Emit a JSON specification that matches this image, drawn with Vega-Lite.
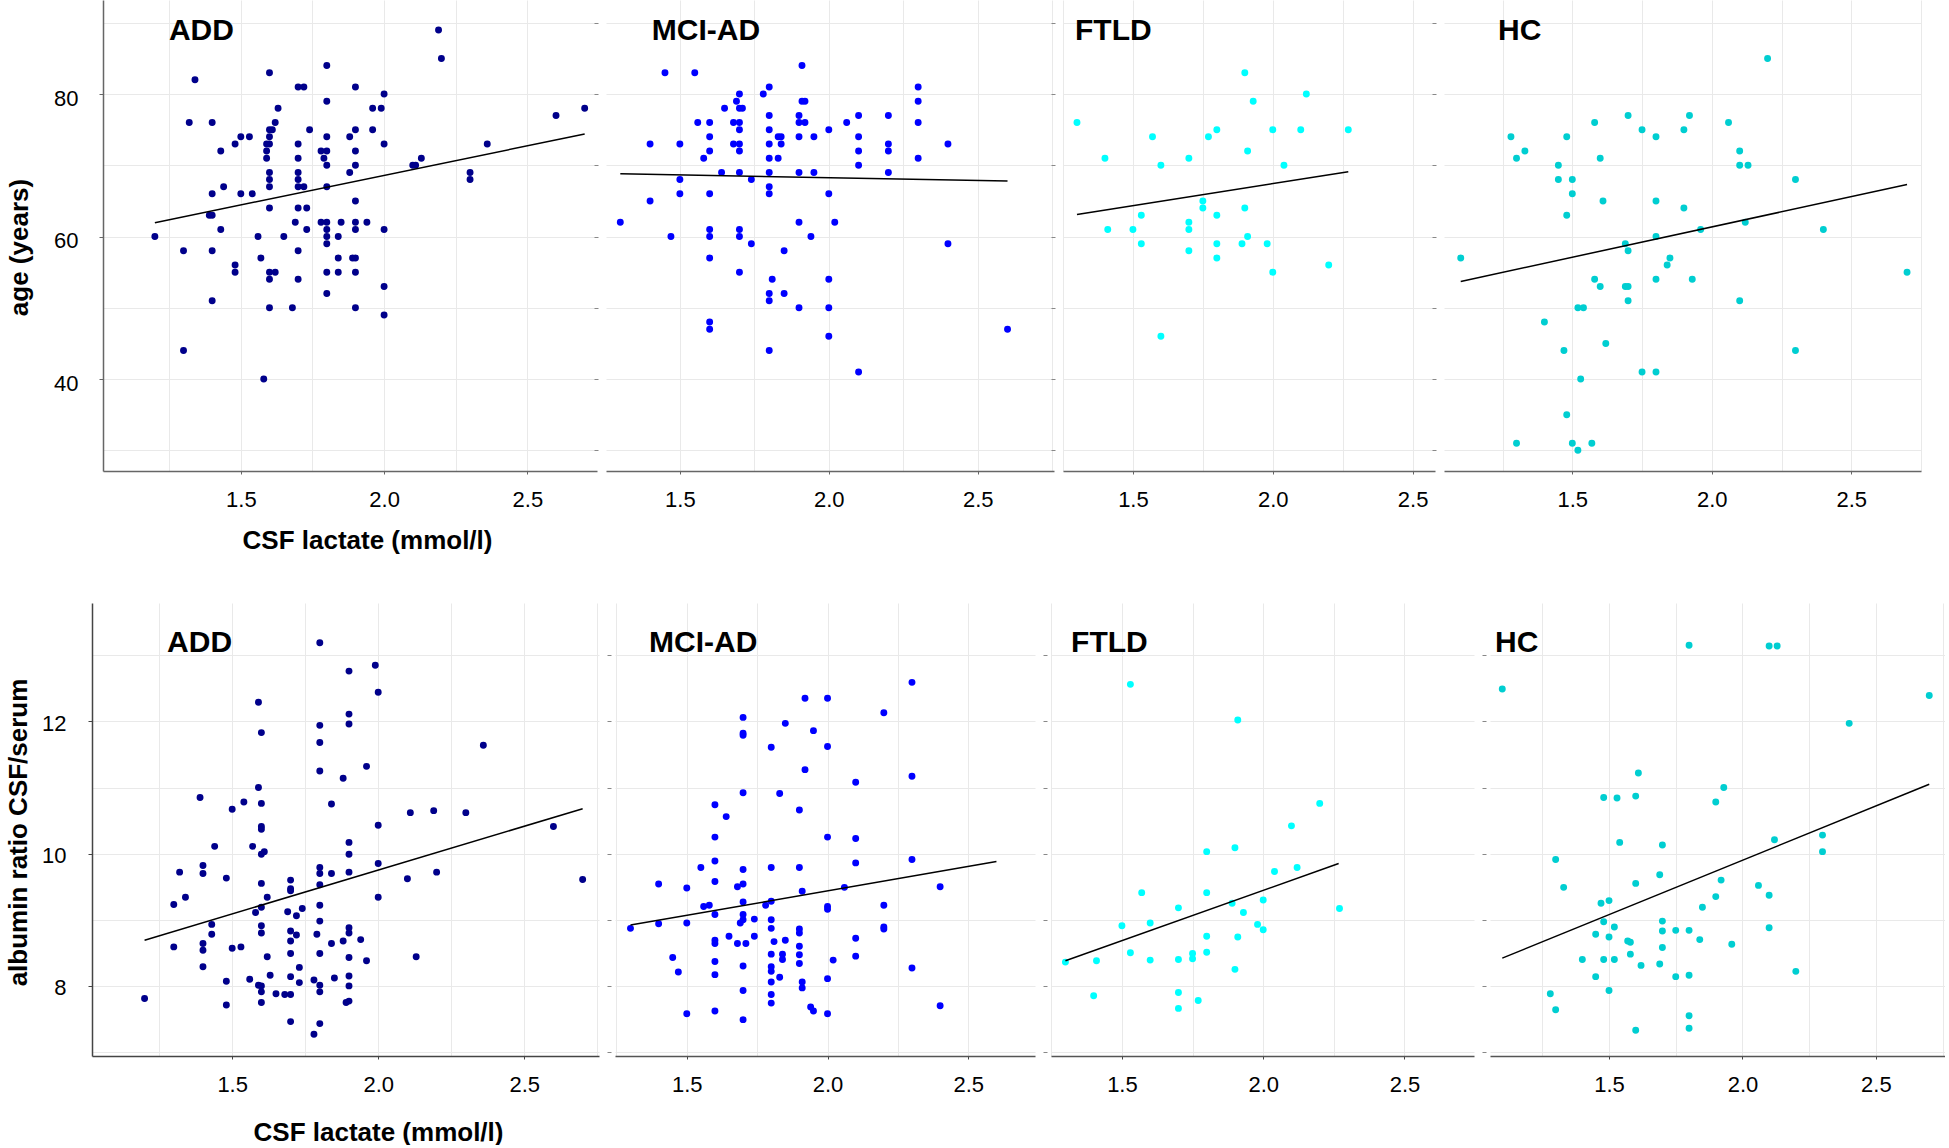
{
"$schema":"https://vega.github.io/schema/vega-lite/v6.json",
"background":"white",
"padding":{"left":5,"top":0,"right":0,"bottom":0},
"config":{"view":{"stroke":null},"font":"Liberation Sans","axis":{"labelFont":"Liberation Sans","titleFont":"Liberation Sans","labelColor":"#000","titleColor":"#000","labelFontSize":22,"titleFontSize":26,"titleFontWeight":"bold","gridColor":"#e9e9e9","gridWidth":1,"labelFlush":false,"labelOverlap":false},"text":{"font":"Liberation Sans","fontSize":30,"fontWeight":"bold","color":"#000","align":"left","baseline":"alphabetic"},"circle":{"size":48,"opacity":1}},
"datasets":{
"top":[
{"g":"ADD","lactate":2.19,"value":89},{"g":"ADD","lactate":2.2,"value":85},{"g":"ADD","lactate":1.8,"value":84},{"g":"ADD","lactate":1.6,"value":83},{"g":"ADD","lactate":1.34,"value":82},{"g":"ADD","lactate":1.7,"value":81},{"g":"ADD","lactate":1.72,"value":81},{"g":"ADD","lactate":1.9,"value":81},{"g":"ADD","lactate":2.0,"value":80},{"g":"ADD","lactate":1.8,"value":79},{"g":"ADD","lactate":1.63,"value":78},{"g":"ADD","lactate":1.96,"value":78},{"g":"ADD","lactate":1.99,"value":78},{"g":"ADD","lactate":2.7,"value":78},{"g":"ADD","lactate":2.6,"value":77},{"g":"ADD","lactate":1.32,"value":76},{"g":"ADD","lactate":1.4,"value":76},{"g":"ADD","lactate":1.62,"value":76},{"g":"ADD","lactate":1.6,"value":75},{"g":"ADD","lactate":1.61,"value":75},{"g":"ADD","lactate":1.74,"value":75},{"g":"ADD","lactate":1.9,"value":75},{"g":"ADD","lactate":1.96,"value":75},{"g":"ADD","lactate":1.5,"value":74},{"g":"ADD","lactate":1.53,"value":74},{"g":"ADD","lactate":1.6,"value":74},{"g":"ADD","lactate":1.8,"value":74},{"g":"ADD","lactate":1.88,"value":74},{"g":"ADD","lactate":1.48,"value":73},{"g":"ADD","lactate":1.59,"value":73},{"g":"ADD","lactate":1.6,"value":73},{"g":"ADD","lactate":1.7,"value":73},{"g":"ADD","lactate":2.0,"value":73},{"g":"ADD","lactate":2.36,"value":73},{"g":"ADD","lactate":1.43,"value":72},{"g":"ADD","lactate":1.59,"value":72},{"g":"ADD","lactate":1.78,"value":72},{"g":"ADD","lactate":1.8,"value":72},{"g":"ADD","lactate":1.9,"value":72},{"g":"ADD","lactate":1.7,"value":71},{"g":"ADD","lactate":1.59,"value":71},{"g":"ADD","lactate":1.79,"value":71},{"g":"ADD","lactate":2.13,"value":71},{"g":"ADD","lactate":1.8,"value":70},{"g":"ADD","lactate":1.9,"value":70},{"g":"ADD","lactate":2.1,"value":70},{"g":"ADD","lactate":2.11,"value":70},{"g":"ADD","lactate":1.6,"value":69},{"g":"ADD","lactate":1.7,"value":69},{"g":"ADD","lactate":1.88,"value":69},{"g":"ADD","lactate":2.3,"value":69},{"g":"ADD","lactate":1.6,"value":68},{"g":"ADD","lactate":1.7,"value":68},{"g":"ADD","lactate":2.3,"value":68},{"g":"ADD","lactate":1.44,"value":67},{"g":"ADD","lactate":1.6,"value":67},{"g":"ADD","lactate":1.7,"value":67},{"g":"ADD","lactate":1.72,"value":67},{"g":"ADD","lactate":1.8,"value":67},{"g":"ADD","lactate":1.4,"value":66},{"g":"ADD","lactate":1.5,"value":66},{"g":"ADD","lactate":1.54,"value":66},{"g":"ADD","lactate":1.9,"value":65},{"g":"ADD","lactate":1.6,"value":64},{"g":"ADD","lactate":1.7,"value":64},{"g":"ADD","lactate":1.73,"value":64},{"g":"ADD","lactate":1.39,"value":63},{"g":"ADD","lactate":1.4,"value":63},{"g":"ADD","lactate":1.69,"value":62},{"g":"ADD","lactate":1.78,"value":62},{"g":"ADD","lactate":1.8,"value":62},{"g":"ADD","lactate":1.85,"value":62},{"g":"ADD","lactate":1.9,"value":62},{"g":"ADD","lactate":1.94,"value":62},{"g":"ADD","lactate":1.43,"value":61},{"g":"ADD","lactate":1.73,"value":61},{"g":"ADD","lactate":1.8,"value":61},{"g":"ADD","lactate":1.9,"value":61},{"g":"ADD","lactate":2.0,"value":61},{"g":"ADD","lactate":1.2,"value":60},{"g":"ADD","lactate":1.56,"value":60},{"g":"ADD","lactate":1.65,"value":60},{"g":"ADD","lactate":1.8,"value":60},{"g":"ADD","lactate":1.84,"value":60},{"g":"ADD","lactate":1.8,"value":59},{"g":"ADD","lactate":1.3,"value":58},{"g":"ADD","lactate":1.4,"value":58},{"g":"ADD","lactate":1.7,"value":58},{"g":"ADD","lactate":1.57,"value":57},{"g":"ADD","lactate":1.84,"value":57},{"g":"ADD","lactate":1.89,"value":57},{"g":"ADD","lactate":1.9,"value":57},{"g":"ADD","lactate":1.48,"value":56},{"g":"ADD","lactate":1.48,"value":55},{"g":"ADD","lactate":1.6,"value":55},{"g":"ADD","lactate":1.62,"value":55},{"g":"ADD","lactate":1.8,"value":55},{"g":"ADD","lactate":1.84,"value":55},{"g":"ADD","lactate":1.9,"value":55},{"g":"ADD","lactate":1.6,"value":54},{"g":"ADD","lactate":1.7,"value":54},{"g":"ADD","lactate":2.0,"value":53},{"g":"ADD","lactate":1.8,"value":52},{"g":"ADD","lactate":1.4,"value":51},{"g":"ADD","lactate":1.6,"value":50},{"g":"ADD","lactate":1.68,"value":50},{"g":"ADD","lactate":1.9,"value":50},{"g":"ADD","lactate":2.0,"value":49},{"g":"ADD","lactate":1.3,"value":44},{"g":"ADD","lactate":1.58,"value":40},
{"g":"MCI","lactate":1.91,"value":84},{"g":"MCI","lactate":1.45,"value":83},{"g":"MCI","lactate":1.55,"value":83},{"g":"MCI","lactate":1.8,"value":81},{"g":"MCI","lactate":2.3,"value":81},{"g":"MCI","lactate":1.7,"value":80},{"g":"MCI","lactate":1.78,"value":80},{"g":"MCI","lactate":1.69,"value":79},{"g":"MCI","lactate":1.91,"value":79},{"g":"MCI","lactate":1.92,"value":79},{"g":"MCI","lactate":2.3,"value":79},{"g":"MCI","lactate":1.65,"value":78},{"g":"MCI","lactate":1.7,"value":78},{"g":"MCI","lactate":1.71,"value":78},{"g":"MCI","lactate":1.8,"value":77},{"g":"MCI","lactate":1.9,"value":77},{"g":"MCI","lactate":2.1,"value":77},{"g":"MCI","lactate":2.2,"value":77},{"g":"MCI","lactate":1.56,"value":76},{"g":"MCI","lactate":1.6,"value":76},{"g":"MCI","lactate":1.68,"value":76},{"g":"MCI","lactate":1.7,"value":76},{"g":"MCI","lactate":1.9,"value":76},{"g":"MCI","lactate":1.92,"value":76},{"g":"MCI","lactate":2.06,"value":76},{"g":"MCI","lactate":2.3,"value":76},{"g":"MCI","lactate":1.7,"value":75},{"g":"MCI","lactate":1.8,"value":75},{"g":"MCI","lactate":2.0,"value":75},{"g":"MCI","lactate":1.6,"value":74},{"g":"MCI","lactate":1.83,"value":74},{"g":"MCI","lactate":1.84,"value":74},{"g":"MCI","lactate":1.9,"value":74},{"g":"MCI","lactate":1.95,"value":74},{"g":"MCI","lactate":2.1,"value":74},{"g":"MCI","lactate":1.4,"value":73},{"g":"MCI","lactate":1.5,"value":73},{"g":"MCI","lactate":1.68,"value":73},{"g":"MCI","lactate":1.7,"value":73},{"g":"MCI","lactate":1.8,"value":73},{"g":"MCI","lactate":1.84,"value":73},{"g":"MCI","lactate":2.2,"value":73},{"g":"MCI","lactate":2.4,"value":73},{"g":"MCI","lactate":1.6,"value":72},{"g":"MCI","lactate":1.7,"value":72},{"g":"MCI","lactate":2.1,"value":72},{"g":"MCI","lactate":2.2,"value":72},{"g":"MCI","lactate":1.58,"value":71},{"g":"MCI","lactate":1.8,"value":71},{"g":"MCI","lactate":1.83,"value":71},{"g":"MCI","lactate":2.3,"value":71},{"g":"MCI","lactate":2.1,"value":70},{"g":"MCI","lactate":1.64,"value":69},{"g":"MCI","lactate":1.7,"value":69},{"g":"MCI","lactate":1.8,"value":69},{"g":"MCI","lactate":1.9,"value":69},{"g":"MCI","lactate":1.95,"value":69},{"g":"MCI","lactate":2.2,"value":69},{"g":"MCI","lactate":1.5,"value":68},{"g":"MCI","lactate":1.74,"value":68},{"g":"MCI","lactate":1.8,"value":67},{"g":"MCI","lactate":1.5,"value":66},{"g":"MCI","lactate":1.6,"value":66},{"g":"MCI","lactate":1.8,"value":66},{"g":"MCI","lactate":2.0,"value":66},{"g":"MCI","lactate":1.4,"value":65},{"g":"MCI","lactate":1.3,"value":62},{"g":"MCI","lactate":1.9,"value":62},{"g":"MCI","lactate":2.02,"value":62},{"g":"MCI","lactate":1.6,"value":61},{"g":"MCI","lactate":1.7,"value":61},{"g":"MCI","lactate":1.47,"value":60},{"g":"MCI","lactate":1.6,"value":60},{"g":"MCI","lactate":1.7,"value":60},{"g":"MCI","lactate":1.94,"value":60},{"g":"MCI","lactate":1.74,"value":59},{"g":"MCI","lactate":2.4,"value":59},{"g":"MCI","lactate":1.85,"value":58},{"g":"MCI","lactate":1.6,"value":57},{"g":"MCI","lactate":1.7,"value":55},{"g":"MCI","lactate":1.81,"value":54},{"g":"MCI","lactate":2.0,"value":54},{"g":"MCI","lactate":1.8,"value":52},{"g":"MCI","lactate":1.85,"value":52},{"g":"MCI","lactate":1.8,"value":51},{"g":"MCI","lactate":1.9,"value":50},{"g":"MCI","lactate":2.0,"value":50},{"g":"MCI","lactate":1.6,"value":48},{"g":"MCI","lactate":1.6,"value":47},{"g":"MCI","lactate":2.6,"value":47},{"g":"MCI","lactate":2.0,"value":46},{"g":"MCI","lactate":1.8,"value":44},{"g":"MCI","lactate":2.1,"value":41},
{"g":"FTLD","lactate":1.9,"value":83},{"g":"FTLD","lactate":2.12,"value":80},{"g":"FTLD","lactate":1.93,"value":79},{"g":"FTLD","lactate":1.3,"value":76},{"g":"FTLD","lactate":1.8,"value":75},{"g":"FTLD","lactate":2.0,"value":75},{"g":"FTLD","lactate":2.1,"value":75},{"g":"FTLD","lactate":2.27,"value":75},{"g":"FTLD","lactate":1.57,"value":74},{"g":"FTLD","lactate":1.77,"value":74},{"g":"FTLD","lactate":1.91,"value":72},{"g":"FTLD","lactate":1.4,"value":71},{"g":"FTLD","lactate":1.7,"value":71},{"g":"FTLD","lactate":1.6,"value":70},{"g":"FTLD","lactate":2.04,"value":70},{"g":"FTLD","lactate":1.75,"value":65},{"g":"FTLD","lactate":1.75,"value":64},{"g":"FTLD","lactate":1.9,"value":64},{"g":"FTLD","lactate":1.53,"value":63},{"g":"FTLD","lactate":1.8,"value":63},{"g":"FTLD","lactate":1.7,"value":62},{"g":"FTLD","lactate":1.41,"value":61},{"g":"FTLD","lactate":1.5,"value":61},{"g":"FTLD","lactate":1.7,"value":61},{"g":"FTLD","lactate":1.91,"value":60},{"g":"FTLD","lactate":1.53,"value":59},{"g":"FTLD","lactate":1.8,"value":59},{"g":"FTLD","lactate":1.89,"value":59},{"g":"FTLD","lactate":1.98,"value":59},{"g":"FTLD","lactate":1.7,"value":58},{"g":"FTLD","lactate":1.8,"value":57},{"g":"FTLD","lactate":2.2,"value":56},{"g":"FTLD","lactate":2.0,"value":55},{"g":"FTLD","lactate":1.6,"value":46},
{"g":"HC","lactate":2.2,"value":85},{"g":"HC","lactate":1.7,"value":77},{"g":"HC","lactate":1.92,"value":77},{"g":"HC","lactate":1.58,"value":76},{"g":"HC","lactate":2.06,"value":76},{"g":"HC","lactate":1.75,"value":75},{"g":"HC","lactate":1.9,"value":75},{"g":"HC","lactate":1.28,"value":74},{"g":"HC","lactate":1.48,"value":74},{"g":"HC","lactate":1.8,"value":74},{"g":"HC","lactate":1.33,"value":72},{"g":"HC","lactate":2.1,"value":72},{"g":"HC","lactate":1.3,"value":71},{"g":"HC","lactate":1.6,"value":71},{"g":"HC","lactate":1.45,"value":70},{"g":"HC","lactate":2.1,"value":70},{"g":"HC","lactate":2.13,"value":70},{"g":"HC","lactate":1.45,"value":68},{"g":"HC","lactate":1.5,"value":68},{"g":"HC","lactate":2.3,"value":68},{"g":"HC","lactate":1.5,"value":66},{"g":"HC","lactate":1.61,"value":65},{"g":"HC","lactate":1.8,"value":65},{"g":"HC","lactate":1.9,"value":64},{"g":"HC","lactate":1.48,"value":63},{"g":"HC","lactate":2.12,"value":62},{"g":"HC","lactate":1.96,"value":61},{"g":"HC","lactate":2.4,"value":61},{"g":"HC","lactate":1.8,"value":60},{"g":"HC","lactate":1.1,"value":57},{"g":"HC","lactate":1.69,"value":59},{"g":"HC","lactate":1.7,"value":58},{"g":"HC","lactate":1.85,"value":57},{"g":"HC","lactate":1.84,"value":56},{"g":"HC","lactate":2.7,"value":55},{"g":"HC","lactate":1.58,"value":54},{"g":"HC","lactate":1.8,"value":54},{"g":"HC","lactate":1.93,"value":54},{"g":"HC","lactate":1.6,"value":53},{"g":"HC","lactate":1.69,"value":53},{"g":"HC","lactate":1.7,"value":53},{"g":"HC","lactate":1.7,"value":51},{"g":"HC","lactate":2.1,"value":51},{"g":"HC","lactate":1.52,"value":50},{"g":"HC","lactate":1.54,"value":50},{"g":"HC","lactate":1.4,"value":48},{"g":"HC","lactate":1.62,"value":45},{"g":"HC","lactate":1.47,"value":44},{"g":"HC","lactate":2.3,"value":44},{"g":"HC","lactate":1.75,"value":41},{"g":"HC","lactate":1.8,"value":41},{"g":"HC","lactate":1.53,"value":40},{"g":"HC","lactate":1.48,"value":35},{"g":"HC","lactate":1.3,"value":31},{"g":"HC","lactate":1.5,"value":31},{"g":"HC","lactate":1.57,"value":31},{"g":"HC","lactate":1.52,"value":30}
],
"topfit":[
{"g":"ADD","lactate":1.2,"value":61.95},{"g":"ADD","lactate":2.7,"value":74.39},
{"g":"MCI","lactate":1.3,"value":68.8},{"g":"MCI","lactate":2.6,"value":67.8},
{"g":"FTLD","lactate":1.3,"value":63.1},{"g":"FTLD","lactate":2.27,"value":69.1},
{"g":"HC","lactate":1.1,"value":53.7},{"g":"HC","lactate":2.7,"value":67.3}
],
"bot":[
{"g":"ADD","lactate":1.8,"value":13.19},{"g":"ADD","lactate":1.99,"value":12.85},{"g":"ADD","lactate":1.9,"value":12.76},{"g":"ADD","lactate":2.0,"value":12.44},{"g":"ADD","lactate":1.59,"value":12.29},{"g":"ADD","lactate":1.9,"value":12.11},{"g":"ADD","lactate":1.8,"value":11.94},{"g":"ADD","lactate":1.9,"value":11.96},{"g":"ADD","lactate":1.6,"value":11.83},{"g":"ADD","lactate":1.8,"value":11.68},{"g":"ADD","lactate":2.36,"value":11.64},{"g":"ADD","lactate":1.96,"value":11.32},{"g":"ADD","lactate":1.8,"value":11.25},{"g":"ADD","lactate":1.88,"value":11.14},{"g":"ADD","lactate":1.59,"value":11.0},{"g":"ADD","lactate":1.39,"value":10.85},{"g":"ADD","lactate":1.54,"value":10.78},{"g":"ADD","lactate":1.6,"value":10.76},{"g":"ADD","lactate":1.84,"value":10.75},{"g":"ADD","lactate":1.5,"value":10.67},{"g":"ADD","lactate":2.11,"value":10.62},{"g":"ADD","lactate":2.19,"value":10.65},{"g":"ADD","lactate":2.3,"value":10.62},{"g":"ADD","lactate":2.0,"value":10.43},{"g":"ADD","lactate":1.6,"value":10.41},{"g":"ADD","lactate":1.6,"value":10.37},{"g":"ADD","lactate":2.6,"value":10.41},{"g":"ADD","lactate":1.9,"value":10.17},{"g":"ADD","lactate":1.44,"value":10.11},{"g":"ADD","lactate":1.57,"value":10.11},{"g":"ADD","lactate":1.61,"value":10.03},{"g":"ADD","lactate":1.6,"value":9.99},{"g":"ADD","lactate":1.9,"value":9.99},{"g":"ADD","lactate":2.0,"value":9.85},{"g":"ADD","lactate":1.4,"value":9.82},{"g":"ADD","lactate":1.8,"value":9.79},{"g":"ADD","lactate":1.32,"value":9.72},{"g":"ADD","lactate":1.4,"value":9.7},{"g":"ADD","lactate":1.8,"value":9.7},{"g":"ADD","lactate":1.84,"value":9.7},{"g":"ADD","lactate":1.9,"value":9.72},{"g":"ADD","lactate":2.2,"value":9.72},{"g":"ADD","lactate":1.48,"value":9.63},{"g":"ADD","lactate":2.1,"value":9.62},{"g":"ADD","lactate":2.7,"value":9.61},{"g":"ADD","lactate":1.7,"value":9.6},{"g":"ADD","lactate":1.6,"value":9.55},{"g":"ADD","lactate":1.8,"value":9.53},{"g":"ADD","lactate":1.7,"value":9.47},{"g":"ADD","lactate":1.7,"value":9.44},{"g":"ADD","lactate":1.34,"value":9.34},{"g":"ADD","lactate":1.62,"value":9.34},{"g":"ADD","lactate":2.0,"value":9.34},{"g":"ADD","lactate":1.3,"value":9.23},{"g":"ADD","lactate":1.8,"value":9.22},{"g":"ADD","lactate":1.6,"value":9.19},{"g":"ADD","lactate":1.74,"value":9.17},{"g":"ADD","lactate":1.58,"value":9.11},{"g":"ADD","lactate":1.69,"value":9.12},{"g":"ADD","lactate":1.72,"value":9.06},{"g":"ADD","lactate":1.8,"value":8.98},{"g":"ADD","lactate":1.43,"value":8.93},{"g":"ADD","lactate":1.6,"value":8.91},{"g":"ADD","lactate":1.9,"value":8.88},{"g":"ADD","lactate":1.7,"value":8.83},{"g":"ADD","lactate":1.6,"value":8.8},{"g":"ADD","lactate":1.9,"value":8.8},{"g":"ADD","lactate":1.43,"value":8.78},{"g":"ADD","lactate":1.72,"value":8.77},{"g":"ADD","lactate":1.79,"value":8.78},{"g":"ADD","lactate":1.94,"value":8.7},{"g":"ADD","lactate":1.7,"value":8.68},{"g":"ADD","lactate":1.88,"value":8.68},{"g":"ADD","lactate":1.84,"value":8.64},{"g":"ADD","lactate":1.4,"value":8.64},{"g":"ADD","lactate":1.3,"value":8.59},{"g":"ADD","lactate":1.5,"value":8.57},{"g":"ADD","lactate":1.53,"value":8.59},{"g":"ADD","lactate":1.4,"value":8.54},{"g":"ADD","lactate":1.7,"value":8.49},{"g":"ADD","lactate":1.8,"value":8.49},{"g":"ADD","lactate":1.62,"value":8.44},{"g":"ADD","lactate":2.13,"value":8.44},{"g":"ADD","lactate":1.9,"value":8.43},{"g":"ADD","lactate":1.96,"value":8.38},{"g":"ADD","lactate":1.4,"value":8.29},{"g":"ADD","lactate":1.73,"value":8.28},{"g":"ADD","lactate":1.63,"value":8.16},{"g":"ADD","lactate":1.7,"value":8.14},{"g":"ADD","lactate":1.9,"value":8.15},{"g":"ADD","lactate":1.85,"value":8.12},{"g":"ADD","lactate":1.56,"value":8.1},{"g":"ADD","lactate":1.48,"value":8.07},{"g":"ADD","lactate":1.78,"value":8.09},{"g":"ADD","lactate":1.73,"value":8.05},{"g":"ADD","lactate":1.59,"value":8.01},{"g":"ADD","lactate":1.6,"value":8.0},{"g":"ADD","lactate":1.8,"value":8.01},{"g":"ADD","lactate":1.9,"value":8.0},{"g":"ADD","lactate":1.6,"value":7.91},{"g":"ADD","lactate":1.8,"value":7.91},{"g":"ADD","lactate":1.65,"value":7.88},{"g":"ADD","lactate":1.68,"value":7.87},{"g":"ADD","lactate":1.7,"value":7.87},{"g":"ADD","lactate":1.2,"value":7.81},{"g":"ADD","lactate":1.48,"value":7.71},{"g":"ADD","lactate":1.6,"value":7.75},{"g":"ADD","lactate":1.89,"value":7.75},{"g":"ADD","lactate":1.9,"value":7.77},{"g":"ADD","lactate":1.7,"value":7.46},{"g":"ADD","lactate":1.8,"value":7.43},{"g":"ADD","lactate":1.78,"value":7.27},
{"g":"MCI","lactate":2.3,"value":12.59},{"g":"MCI","lactate":1.92,"value":12.35},{"g":"MCI","lactate":2.0,"value":12.35},{"g":"MCI","lactate":2.2,"value":12.13},{"g":"MCI","lactate":1.7,"value":12.06},{"g":"MCI","lactate":1.85,"value":11.97},{"g":"MCI","lactate":1.95,"value":11.86},{"g":"MCI","lactate":1.7,"value":11.82},{"g":"MCI","lactate":1.7,"value":11.79},{"g":"MCI","lactate":1.8,"value":11.61},{"g":"MCI","lactate":2.0,"value":11.62},{"g":"MCI","lactate":1.92,"value":11.27},{"g":"MCI","lactate":2.3,"value":11.17},{"g":"MCI","lactate":2.1,"value":11.08},{"g":"MCI","lactate":1.7,"value":10.92},{"g":"MCI","lactate":1.83,"value":10.91},{"g":"MCI","lactate":1.6,"value":10.74},{"g":"MCI","lactate":1.9,"value":10.66},{"g":"MCI","lactate":1.64,"value":10.56},{"g":"MCI","lactate":1.6,"value":10.25},{"g":"MCI","lactate":2.0,"value":10.25},{"g":"MCI","lactate":2.1,"value":10.23},{"g":"MCI","lactate":2.3,"value":9.91},{"g":"MCI","lactate":1.6,"value":9.89},{"g":"MCI","lactate":2.1,"value":9.86},{"g":"MCI","lactate":1.55,"value":9.79},{"g":"MCI","lactate":1.7,"value":9.76},{"g":"MCI","lactate":1.8,"value":9.79},{"g":"MCI","lactate":1.9,"value":9.79},{"g":"MCI","lactate":1.6,"value":9.58},{"g":"MCI","lactate":1.4,"value":9.54},{"g":"MCI","lactate":1.7,"value":9.54},{"g":"MCI","lactate":1.68,"value":9.5},{"g":"MCI","lactate":2.06,"value":9.49},{"g":"MCI","lactate":2.4,"value":9.5},{"g":"MCI","lactate":1.5,"value":9.48},{"g":"MCI","lactate":1.91,"value":9.43},{"g":"MCI","lactate":1.7,"value":9.27},{"g":"MCI","lactate":1.8,"value":9.28},{"g":"MCI","lactate":1.56,"value":9.2},{"g":"MCI","lactate":1.58,"value":9.22},{"g":"MCI","lactate":1.78,"value":9.22},{"g":"MCI","lactate":2.0,"value":9.2},{"g":"MCI","lactate":2.0,"value":9.16},{"g":"MCI","lactate":2.2,"value":9.22},{"g":"MCI","lactate":1.6,"value":9.08},{"g":"MCI","lactate":1.7,"value":9.08},{"g":"MCI","lactate":1.7,"value":9.0},{"g":"MCI","lactate":1.74,"value":9.01},{"g":"MCI","lactate":1.8,"value":9.0},{"g":"MCI","lactate":1.4,"value":8.94},{"g":"MCI","lactate":1.5,"value":8.95},{"g":"MCI","lactate":1.69,"value":8.95},{"g":"MCI","lactate":1.3,"value":8.87},{"g":"MCI","lactate":1.8,"value":8.87},{"g":"MCI","lactate":1.9,"value":8.86},{"g":"MCI","lactate":1.9,"value":8.8},{"g":"MCI","lactate":2.2,"value":8.89},{"g":"MCI","lactate":2.2,"value":8.86},{"g":"MCI","lactate":1.65,"value":8.75},{"g":"MCI","lactate":1.74,"value":8.75},{"g":"MCI","lactate":2.1,"value":8.72},{"g":"MCI","lactate":1.6,"value":8.69},{"g":"MCI","lactate":1.6,"value":8.64},{"g":"MCI","lactate":1.81,"value":8.67},{"g":"MCI","lactate":1.85,"value":8.69},{"g":"MCI","lactate":1.68,"value":8.64},{"g":"MCI","lactate":1.71,"value":8.64},{"g":"MCI","lactate":1.9,"value":8.6},{"g":"MCI","lactate":1.8,"value":8.48},{"g":"MCI","lactate":1.84,"value":8.48},{"g":"MCI","lactate":1.9,"value":8.47},{"g":"MCI","lactate":2.1,"value":8.45},{"g":"MCI","lactate":1.45,"value":8.43},{"g":"MCI","lactate":1.84,"value":8.4},{"g":"MCI","lactate":2.02,"value":8.39},{"g":"MCI","lactate":1.6,"value":8.37},{"g":"MCI","lactate":1.9,"value":8.34},{"g":"MCI","lactate":1.7,"value":8.3},{"g":"MCI","lactate":1.8,"value":8.29},{"g":"MCI","lactate":2.3,"value":8.27},{"g":"MCI","lactate":1.47,"value":8.21},{"g":"MCI","lactate":1.8,"value":8.22},{"g":"MCI","lactate":1.6,"value":8.17},{"g":"MCI","lactate":1.83,"value":8.13},{"g":"MCI","lactate":2.0,"value":8.11},{"g":"MCI","lactate":1.91,"value":8.06},{"g":"MCI","lactate":1.8,"value":8.06},{"g":"MCI","lactate":1.91,"value":7.97},{"g":"MCI","lactate":1.7,"value":7.93},{"g":"MCI","lactate":1.8,"value":7.87},{"g":"MCI","lactate":1.8,"value":7.74},{"g":"MCI","lactate":2.4,"value":7.7},{"g":"MCI","lactate":1.94,"value":7.68},{"g":"MCI","lactate":1.95,"value":7.62},{"g":"MCI","lactate":1.6,"value":7.62},{"g":"MCI","lactate":1.5,"value":7.58},{"g":"MCI","lactate":2.0,"value":7.58},{"g":"MCI","lactate":1.7,"value":7.49},
{"g":"FTLD","lactate":1.53,"value":12.56},{"g":"FTLD","lactate":1.91,"value":12.02},{"g":"FTLD","lactate":2.2,"value":10.76},{"g":"FTLD","lactate":2.1,"value":10.42},{"g":"FTLD","lactate":1.9,"value":10.09},{"g":"FTLD","lactate":1.8,"value":10.03},{"g":"FTLD","lactate":2.04,"value":9.73},{"g":"FTLD","lactate":2.12,"value":9.79},{"g":"FTLD","lactate":1.57,"value":9.41},{"g":"FTLD","lactate":1.8,"value":9.41},{"g":"FTLD","lactate":1.7,"value":9.18},{"g":"FTLD","lactate":1.89,"value":9.25},{"g":"FTLD","lactate":2.0,"value":9.3},{"g":"FTLD","lactate":2.27,"value":9.17},{"g":"FTLD","lactate":1.93,"value":9.11},{"g":"FTLD","lactate":1.5,"value":8.91},{"g":"FTLD","lactate":1.6,"value":8.95},{"g":"FTLD","lactate":1.98,"value":8.93},{"g":"FTLD","lactate":2.0,"value":8.85},{"g":"FTLD","lactate":1.8,"value":8.75},{"g":"FTLD","lactate":1.91,"value":8.74},{"g":"FTLD","lactate":1.53,"value":8.5},{"g":"FTLD","lactate":1.75,"value":8.49},{"g":"FTLD","lactate":1.8,"value":8.51},{"g":"FTLD","lactate":1.3,"value":8.36},{"g":"FTLD","lactate":1.41,"value":8.38},{"g":"FTLD","lactate":1.6,"value":8.39},{"g":"FTLD","lactate":1.7,"value":8.4},{"g":"FTLD","lactate":1.75,"value":8.41},{"g":"FTLD","lactate":1.9,"value":8.25},{"g":"FTLD","lactate":1.4,"value":7.85},{"g":"FTLD","lactate":1.7,"value":7.9},{"g":"FTLD","lactate":1.77,"value":7.78},{"g":"FTLD","lactate":1.7,"value":7.66},
{"g":"HC","lactate":1.1,"value":12.49},{"g":"HC","lactate":1.8,"value":13.15},{"g":"HC","lactate":2.1,"value":13.14},{"g":"HC","lactate":2.13,"value":13.14},{"g":"HC","lactate":2.7,"value":12.39},{"g":"HC","lactate":2.4,"value":11.97},{"g":"HC","lactate":1.61,"value":11.22},{"g":"HC","lactate":1.93,"value":11.0},{"g":"HC","lactate":1.48,"value":10.85},{"g":"HC","lactate":1.53,"value":10.84},{"g":"HC","lactate":1.6,"value":10.87},{"g":"HC","lactate":1.9,"value":10.78},{"g":"HC","lactate":1.54,"value":10.17},{"g":"HC","lactate":1.7,"value":10.13},{"g":"HC","lactate":2.12,"value":10.21},{"g":"HC","lactate":2.3,"value":10.28},{"g":"HC","lactate":2.3,"value":10.03},{"g":"HC","lactate":1.3,"value":9.91},{"g":"HC","lactate":1.69,"value":9.68},{"g":"HC","lactate":1.33,"value":9.49},{"g":"HC","lactate":1.6,"value":9.55},{"g":"HC","lactate":1.92,"value":9.6},{"g":"HC","lactate":2.06,"value":9.52},{"g":"HC","lactate":1.47,"value":9.25},{"g":"HC","lactate":1.5,"value":9.29},{"g":"HC","lactate":1.9,"value":9.35},{"g":"HC","lactate":2.1,"value":9.37},{"g":"HC","lactate":1.85,"value":9.19},{"g":"HC","lactate":1.48,"value":8.97},{"g":"HC","lactate":1.7,"value":8.98},{"g":"HC","lactate":1.52,"value":8.89},{"g":"HC","lactate":1.7,"value":8.83},{"g":"HC","lactate":1.75,"value":8.84},{"g":"HC","lactate":1.8,"value":8.84},{"g":"HC","lactate":2.1,"value":8.88},{"g":"HC","lactate":1.45,"value":8.78},{"g":"HC","lactate":1.5,"value":8.74},{"g":"HC","lactate":1.57,"value":8.68},{"g":"HC","lactate":1.58,"value":8.66},{"g":"HC","lactate":1.84,"value":8.7},{"g":"HC","lactate":1.96,"value":8.63},{"g":"HC","lactate":1.7,"value":8.58},{"g":"HC","lactate":1.58,"value":8.48},{"g":"HC","lactate":1.4,"value":8.4},{"g":"HC","lactate":1.48,"value":8.4},{"g":"HC","lactate":1.52,"value":8.4},{"g":"HC","lactate":1.62,"value":8.31},{"g":"HC","lactate":1.69,"value":8.33},{"g":"HC","lactate":1.45,"value":8.14},{"g":"HC","lactate":1.75,"value":8.14},{"g":"HC","lactate":1.8,"value":8.16},{"g":"HC","lactate":2.2,"value":8.22},{"g":"HC","lactate":1.5,"value":7.93},{"g":"HC","lactate":1.28,"value":7.88},{"g":"HC","lactate":1.3,"value":7.64},{"g":"HC","lactate":1.8,"value":7.55},{"g":"HC","lactate":1.8,"value":7.36},{"g":"HC","lactate":1.6,"value":7.33}
],
"botfit":[
{"g":"ADD","lactate":1.2,"value":8.69},{"g":"ADD","lactate":2.7,"value":10.68},
{"g":"MCI","lactate":1.3,"value":8.92},{"g":"MCI","lactate":2.6,"value":9.88},
{"g":"FTLD","lactate":1.3,"value":8.38},{"g":"FTLD","lactate":2.267,"value":9.85},
{"g":"HC","lactate":1.1,"value":8.42},{"g":"HC","lactate":2.7,"value":11.05}
],
"names":[{"g":"ADD","label":"ADD"},{"g":"MCI","label":"MCI-AD"},{"g":"FTLD","label":"FTLD"},{"g":"HC","label":"HC"}]
},
"spacing":50,
"vconcat":[
{"bounds":"flush","spacing":9,"hconcat":[
{"width":2,"height":471,"data":{"values":[]},"mark":"point"},
{"width":494,"height":471,
"layer":[
{"data":{"name":"top"},"transform":[{"filter":"datum.g==='ADD'"}],"mark":{"type":"circle","color":"#00008B"},
"encoding":{
"x":{"field":"lactate","type":"quantitative","scale":{"domain":[1.019,2.743],"nice":false,"zero":false},"axis":{"values":[1.25,1.5,1.75,2,2.25,2.5],"labelExpr":"(datum.value*4)%2==0 ? format(datum.value,'.1f') : ''","title":"CSF lactate (mmol/l)","titleX":264,"titleY":77,"titleBaseline":"alphabetic","titleAlign":"center","labelPadding":15,"tickSize":3,"tickColor":"#666","tickOpacity":{"condition":{"test":"(datum.value*4)%2==0","value":1},"value":0},"domainColor":"#666","domainWidth":1.5,"grid":true}},
"y":{"field":"value","type":"quantitative","scale":{"domain":[27.1,93.2],"nice":false,"zero":false},"axis":{"values":[30,40,50,60,70,80,90],"labelExpr":"datum.value%20==0 ? (datum.value+'') : ''","title":"age (years)","titleX":-84,"titleY":247,"titleBaseline":"middle","titleAlign":"center","titleAngle":-90,"labelPadding":21,"tickSize":4,"tickColor":"#666","tickOpacity":{"condition":{"test":"datum.value%20==0","value":1},"value":0},"labelOffset":4,"domainColor":"#666","domainWidth":1.5,"grid":true}}}},
{"data":{"name":"topfit"},"transform":[{"filter":"datum.g==='ADD'"}],"mark":{"type":"line","color":"#000","strokeWidth":1.5},
"encoding":{"x":{"field":"lactate","type":"quantitative","scale":{"domain":[1.019,2.743],"nice":false,"zero":false}},"y":{"field":"value","type":"quantitative","scale":{"domain":[27.1,93.2],"nice":false,"zero":false}}}},
{"data":{"name":"names"},"transform":[{"filter":"datum.g==='ADD'"}],"mark":{"type":"text"},"encoding":{"text":{"field":"label"},"x":{"datum":1.249},"y":{"datum":87.59}}}
]},
{"width":448,"height":471,
"layer":[
{"data":{"name":"top"},"transform":[{"filter":"datum.g==='MCI'"}],"mark":{"type":"circle","color":"#0000FF"},
"encoding":{
"x":{"field":"lactate","type":"quantitative","scale":{"domain":[1.252,2.756],"nice":false,"zero":false},"axis":{"values":[1.5,1.75,2,2.25,2.5,2.75],"labelExpr":"(datum.value*4)%2==0 ? format(datum.value,'.1f') : ''","title":null,"labelPadding":15,"tickSize":3,"tickColor":"#666","tickOpacity":{"condition":{"test":"(datum.value*4)%2==0","value":1},"value":0},"domainColor":"#666","domainWidth":1.5,"grid":true}},
"y":{"field":"value","type":"quantitative","scale":{"domain":[27.1,93.2],"nice":false,"zero":false},"axis":{"values":[30,40,50,60,70,80,90],"labels":false,"title":null,"domain":false,"tickSize":4,"tickColor":"#888","offset":8,"grid":true}}}},
{"data":{"name":"topfit"},"transform":[{"filter":"datum.g==='MCI'"}],"mark":{"type":"line","color":"#000","strokeWidth":1.5},
"encoding":{"x":{"field":"lactate","type":"quantitative","scale":{"domain":[1.252,2.756],"nice":false,"zero":false}},"y":{"field":"value","type":"quantitative","scale":{"domain":[27.1,93.2],"nice":false,"zero":false}}}},
{"data":{"name":"names"},"transform":[{"filter":"datum.g==='MCI'"}],"mark":{"type":"text"},"encoding":{"text":{"field":"label"},"x":{"datum":1.406},"y":{"datum":87.59}}}
]},
{"width":372,"height":471,
"layer":[
{"data":{"name":"top"},"transform":[{"filter":"datum.g==='FTLD'"}],"mark":{"type":"circle","color":"#00FFFF"},
"encoding":{
"x":{"field":"lactate","type":"quantitative","scale":{"domain":[1.25,2.58],"nice":false,"zero":false},"axis":{"values":[1.25,1.5,1.75,2,2.25,2.5],"labelExpr":"(datum.value*4)%2==0 ? format(datum.value,'.1f') : ''","title":null,"labelPadding":15,"tickSize":3,"tickColor":"#666","tickOpacity":{"condition":{"test":"(datum.value*4)%2==0","value":1},"value":0},"domainColor":"#666","domainWidth":1.5,"grid":true}},
"y":{"field":"value","type":"quantitative","scale":{"domain":[27.1,93.2],"nice":false,"zero":false},"axis":{"values":[30,40,50,60,70,80,90],"labels":false,"title":null,"domain":false,"tickSize":4,"tickColor":"#888","offset":8,"grid":true}}}},
{"data":{"name":"topfit"},"transform":[{"filter":"datum.g==='FTLD'"}],"mark":{"type":"line","color":"#000","strokeWidth":1.5},
"encoding":{"x":{"field":"lactate","type":"quantitative","scale":{"domain":[1.25,2.58],"nice":false,"zero":false}},"y":{"field":"value","type":"quantitative","scale":{"domain":[27.1,93.2],"nice":false,"zero":false}}}},
{"data":{"name":"names"},"transform":[{"filter":"datum.g==='FTLD'"}],"mark":{"type":"text"},"encoding":{"text":{"field":"label"},"x":{"datum":1.293},"y":{"datum":87.59}}}
]},
{"width":477,"height":471,
"layer":[
{"data":{"name":"top"},"transform":[{"filter":"datum.g==='HC'"}],"mark":{"type":"circle","color":"#00CED1"},
"encoding":{
"x":{"field":"lactate","type":"quantitative","scale":{"domain":[1.04,2.75],"nice":false,"zero":false},"axis":{"values":[1.25,1.5,1.75,2,2.25,2.5,2.75],"labelExpr":"(datum.value*4)%2==0 ? format(datum.value,'.1f') : ''","title":null,"labelPadding":15,"tickSize":3,"tickColor":"#666","tickOpacity":{"condition":{"test":"(datum.value*4)%2==0","value":1},"value":0},"domainColor":"#666","domainWidth":1.5,"grid":true}},
"y":{"field":"value","type":"quantitative","scale":{"domain":[27.1,93.2],"nice":false,"zero":false},"axis":{"values":[30,40,50,60,70,80,90],"labels":false,"title":null,"domain":false,"tickSize":4,"tickColor":"#888","offset":8,"grid":true}}}},
{"data":{"name":"topfit"},"transform":[{"filter":"datum.g==='HC'"}],"mark":{"type":"line","color":"#000","strokeWidth":1.5},
"encoding":{"x":{"field":"lactate","type":"quantitative","scale":{"domain":[1.04,2.75],"nice":false,"zero":false}},"y":{"field":"value","type":"quantitative","scale":{"domain":[27.1,93.2],"nice":false,"zero":false}}}},
{"data":{"name":"names"},"transform":[{"filter":"datum.g==='HC'"}],"mark":{"type":"text"},"encoding":{"text":{"field":"label"},"x":{"datum":1.234},"y":{"datum":87.59}}}
]}
]},
{"bounds":"flush","spacing":16,"hconcat":[
{"width":507,"height":453,
"layer":[
{"data":{"name":"bot"},"transform":[{"filter":"datum.g==='ADD'"}],"mark":{"type":"circle","color":"#00008B"},
"encoding":{
"x":{"field":"lactate","type":"quantitative","scale":{"domain":[1.02,2.756],"nice":false,"zero":false},"axis":{"values":[1.25,1.5,1.75,2,2.25,2.5,2.75],"labelExpr":"(datum.value*4)%2==0 ? format(datum.value,'.1f') : ''","title":"CSF lactate (mmol/l)","titleX":286,"titleY":84,"titleBaseline":"alphabetic","titleAlign":"center","labelPadding":15,"tickSize":3,"tickColor":"#444","tickOpacity":{"condition":{"test":"(datum.value*4)%2==0","value":1},"value":0},"domainColor":"#444","domainWidth":1.5,"grid":true}},
"y":{"field":"value","type":"quantitative","scale":{"domain":[6.94,13.79],"nice":false,"zero":false},"axis":{"values":[7,8,9,10,11,12,13],"labelExpr":"datum.value%2==0 ? (datum.value+'') : ''","title":"albumin ratio CSF/serum","titleX":-74,"titleY":229,"titleBaseline":"middle","titleAlign":"center","titleAngle":-90,"labelPadding":22,"tickSize":4,"tickColor":"#444","tickOpacity":{"condition":{"test":"datum.value%2==0","value":1},"value":0},"labelOffset":2,"domainColor":"#444","domainWidth":1.5,"grid":true}}}},
{"data":{"name":"botfit"},"transform":[{"filter":"datum.g==='ADD'"}],"mark":{"type":"line","color":"#000","strokeWidth":1.5},
"encoding":{"x":{"field":"lactate","type":"quantitative","scale":{"domain":[1.02,2.756],"nice":false,"zero":false}},"y":{"field":"value","type":"quantitative","scale":{"domain":[6.94,13.79],"nice":false,"zero":false}}}},
{"data":{"name":"names"},"transform":[{"filter":"datum.g==='ADD'"}],"mark":{"type":"text"},"encoding":{"text":{"field":"label"},"x":{"datum":1.277},"y":{"datum":13.05}}}
]},
{"width":420,"height":453,
"layer":[
{"data":{"name":"bot"},"transform":[{"filter":"datum.g==='MCI'"}],"mark":{"type":"circle","color":"#0000FF"},
"encoding":{
"x":{"field":"lactate","type":"quantitative","scale":{"domain":[1.245,2.737],"nice":false,"zero":false},"axis":{"values":[1.25,1.5,1.75,2,2.25,2.5],"labelExpr":"(datum.value*4)%2==0 ? format(datum.value,'.1f') : ''","title":null,"labelPadding":15,"tickSize":3,"tickColor":"#444","tickOpacity":{"condition":{"test":"(datum.value*4)%2==0","value":1},"value":0},"domainColor":"#555","domainWidth":1.5,"grid":true}},
"y":{"field":"value","type":"quantitative","scale":{"domain":[6.94,13.79],"nice":false,"zero":false},"axis":{"values":[7,8,9,10,11,12,13],"labels":false,"title":null,"domain":false,"tickSize":4,"tickColor":"#888","offset":4,"grid":true}}}},
{"data":{"name":"botfit"},"transform":[{"filter":"datum.g==='MCI'"}],"mark":{"type":"line","color":"#000","strokeWidth":1.5},
"encoding":{"x":{"field":"lactate","type":"quantitative","scale":{"domain":[1.245,2.737],"nice":false,"zero":false}},"y":{"field":"value","type":"quantitative","scale":{"domain":[6.94,13.79],"nice":false,"zero":false}}}},
{"data":{"name":"names"},"transform":[{"filter":"datum.g==='MCI'"}],"mark":{"type":"text"},"encoding":{"text":{"field":"label"},"x":{"datum":1.366},"y":{"datum":13.05}}}
]},
{"width":423,"height":453,
"layer":[
{"data":{"name":"bot"},"transform":[{"filter":"datum.g==='FTLD'"}],"mark":{"type":"circle","color":"#00FFFF"},
"encoding":{
"x":{"field":"lactate","type":"quantitative","scale":{"domain":[1.249,2.746],"nice":false,"zero":false},"axis":{"values":[1.25,1.5,1.75,2,2.25,2.5],"labelExpr":"(datum.value*4)%2==0 ? format(datum.value,'.1f') : ''","title":null,"labelPadding":15,"tickSize":3,"tickColor":"#444","tickOpacity":{"condition":{"test":"(datum.value*4)%2==0","value":1},"value":0},"domainColor":"#555","domainWidth":1.5,"grid":true}},
"y":{"field":"value","type":"quantitative","scale":{"domain":[6.94,13.79],"nice":false,"zero":false},"axis":{"values":[7,8,9,10,11,12,13],"labels":false,"title":null,"domain":false,"tickSize":4,"tickColor":"#888","offset":4,"grid":true}}}},
{"data":{"name":"botfit"},"transform":[{"filter":"datum.g==='FTLD'"}],"mark":{"type":"line","color":"#000","strokeWidth":1.5},
"encoding":{"x":{"field":"lactate","type":"quantitative","scale":{"domain":[1.249,2.746],"nice":false,"zero":false}},"y":{"field":"value","type":"quantitative","scale":{"domain":[6.94,13.79],"nice":false,"zero":false}}}},
{"data":{"name":"names"},"transform":[{"filter":"datum.g==='FTLD'"}],"mark":{"type":"text"},"encoding":{"text":{"field":"label"},"x":{"datum":1.32},"y":{"datum":13.05}}}
]},
{"width":455,"height":453,
"layer":[
{"data":{"name":"bot"},"transform":[{"filter":"datum.g==='HC'"}],"mark":{"type":"circle","color":"#00CED1"},
"encoding":{
"x":{"field":"lactate","type":"quantitative","scale":{"domain":[1.054,2.759],"nice":false,"zero":false},"axis":{"values":[1.25,1.5,1.75,2,2.25,2.5,2.75],"labelExpr":"(datum.value*4)%2==0 ? format(datum.value,'.1f') : ''","title":null,"labelPadding":15,"tickSize":3,"tickColor":"#444","tickOpacity":{"condition":{"test":"(datum.value*4)%2==0","value":1},"value":0},"domainColor":"#555","domainWidth":1.5,"grid":true}},
"y":{"field":"value","type":"quantitative","scale":{"domain":[6.94,13.79],"nice":false,"zero":false},"axis":{"values":[7,8,9,10,11,12,13],"labels":false,"title":null,"domain":false,"tickSize":4,"tickColor":"#888","offset":4,"grid":true}}}},
{"data":{"name":"botfit"},"transform":[{"filter":"datum.g==='HC'"}],"mark":{"type":"line","color":"#000","strokeWidth":1.5},
"encoding":{"x":{"field":"lactate","type":"quantitative","scale":{"domain":[1.054,2.759],"nice":false,"zero":false}},"y":{"field":"value","type":"quantitative","scale":{"domain":[6.94,13.79],"nice":false,"zero":false}}}},
{"data":{"name":"names"},"transform":[{"filter":"datum.g==='HC'"}],"mark":{"type":"text"},"encoding":{"text":{"field":"label"},"x":{"datum":1.073},"y":{"datum":13.05}}}
]}
]}
]
}
